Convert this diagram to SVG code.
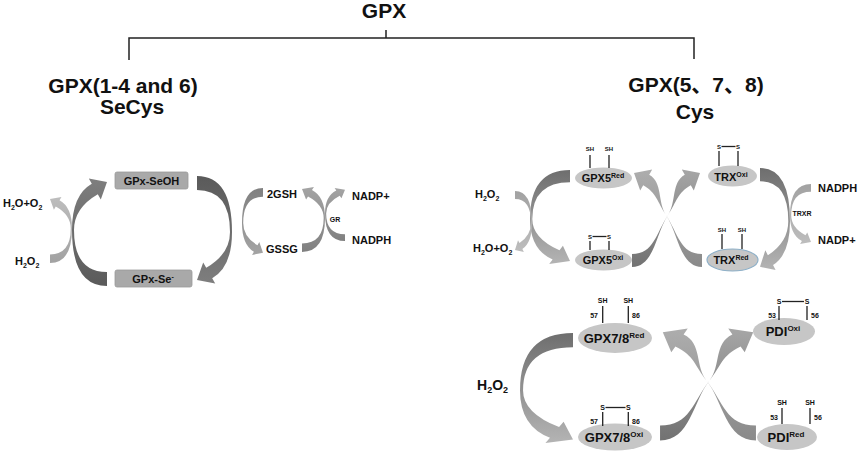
<svg xmlns="http://www.w3.org/2000/svg" width="858" height="460" viewBox="0 0 858 460">
<style>
text{font-family:"Liberation Sans",Arial,"Noto Sans CJK SC",sans-serif;font-weight:bold;fill:#111}
.h{font-size:21px}
.l{font-size:11px}
.s{font-size:6px}
.n{font-size:7px}
.tree{fill:none;stroke:#222;stroke-width:1.5}
.stem{fill:none;stroke:#222;stroke-width:1.3}
.ell{fill:#c6c6c6}
.box{fill:#a9a9a9;stroke:#9a9a9a;stroke-width:0.8}
</style>
<defs>
<linearGradient id="gDark" x1="0" y1="0" x2="0" y2="1"><stop offset="0" stop-color="#7e7e7e"/><stop offset="1" stop-color="#5a5a5a"/></linearGradient>
<linearGradient id="gDarkLight" x1="0" y1="0" x2="0" y2="1"><stop offset="0" stop-color="#b4b4b4"/><stop offset="1" stop-color="#6e6e6e"/></linearGradient>
<linearGradient id="gLight" x1="0" y1="0" x2="0" y2="1"><stop offset="0" stop-color="#bdbdbd"/><stop offset="1" stop-color="#a2a2a2"/></linearGradient>
<linearGradient id="gMid" x1="0" y1="0" x2="0" y2="1"><stop offset="0" stop-color="#a4a4a4"/><stop offset="1" stop-color="#808080"/></linearGradient>
<linearGradient id="gS1" x1="0" y1="0" x2="0" y2="1"><stop offset="0" stop-color="#a6a6a6"/><stop offset="1" stop-color="#727272"/></linearGradient>
<linearGradient id="gS2" x1="0" y1="0" x2="0" y2="1"><stop offset="0" stop-color="#adadad"/><stop offset="1" stop-color="#8a8a8a"/></linearGradient>
<path id="carc" d="M107,286 Q72,286 72,230 Q72,195 91.8,183.8 L88.8,178.6 L107,182 L100.8,199.4 L97.8,194.2 Q74,208 74,230 Q74,272 107,272 Z"/>
<path id="sarr" d="M632,254 C654,254 655.9,233.3 668,215 C676.8,201.7 670.9,182.8 684.8,174.8 L681.8,169.6 L700,173 L693.8,190.4 L690.8,185.2 C676.9,193.2 676.8,201.7 668,215 C655.9,233.3 654,267 632,267 Z"/>
</defs>

<g id="connectors">
<path class="tree" d="M386,30 V38 M129,60 V38 H694 V59"/>
<use href="#carc" fill="url(#gDark)"/>
<use href="#carc" fill="url(#gDark)" transform="rotate(180 152 231)"/>
<use href="#carc" fill="url(#gLight)" transform="translate(117.3 87.25) scale(-0.629 0.6145)"/>
<use href="#carc" fill="url(#gMid)" transform="translate(198.8 366.4) scale(0.6 -0.624)"/>
<use href="#carc" fill="url(#gMid)" transform="translate(372.3 78.9) scale(-0.657 0.605)"/>
<use href="#carc" fill="url(#gMid)" transform="translate(283.9 99.9) scale(0.571 0.4935)"/>
<use href="#carc" fill="url(#gDarkLight)" transform="translate(447.7 420.3) scale(1.143 -0.875)"/>
<use href="#carc" fill="url(#gLight)" transform="translate(567 353.4) scale(-0.486 -0.568)"/>
<use href="#carc" fill="url(#gDarkLight)" transform="translate(851.7 439.7) scale(-0.857 -0.95)"/>
<use href="#carc" fill="url(#gLight)" transform="translate(746.8 343.8) scale(0.6 -0.5587)"/>
<use href="#carc" fill="url(#gDarkLight)" transform="translate(411 625.9) scale(1.514 -1.024)"/>
<use href="#sarr" fill="url(#gS1)"/>
<use href="#sarr" fill="url(#gS2)" transform="translate(1334 0) scale(-1 1)"/>
<use href="#sarr" fill="url(#gS1)" transform="translate(-205.8 133.4) scale(1.37 1.15)"/>
<use href="#sarr" fill="url(#gS2)" transform="translate(1621.8 133.4) scale(-1.37 1.15)"/>
</g>

<g id="gpx-root"><text class="h" x="384" y="18" text-anchor="middle">GPX</text></g>
<g id="secys-branch"><text class="h" x="123" y="93" text-anchor="middle">GPX(1-4 and 6)</text><text class="h" x="132" y="114" text-anchor="middle">SeCys</text></g>
<g id="cys-branch"><text class="h" x="696" y="92" text-anchor="middle">GPX(5、7、8)</text><text class="h" x="695" y="119" text-anchor="middle">Cys</text></g>

<g id="gpx-seoh"><rect class="box" x="115" y="172" width="73" height="17" rx="2"/><text x="151.5" y="184.5" text-anchor="middle" font-size="11">GPx-SeOH</text></g>
<g id="gpx-se"><rect class="box" x="115" y="270" width="77" height="17" rx="2"/><text x="153" y="282.5" text-anchor="middle" font-size="11">GPx-Se<tspan font-size="7" dy="-4">-</tspan></text></g>
<g id="h2o-o2-left"><text class="l" x="3" y="207">H<tspan font-size="7" dy="3">2</tspan><tspan dy="-3">O+O</tspan><tspan font-size="7" dy="3">2</tspan></text></g>
<g id="h2o2-left"><text class="l" x="15" y="265">H<tspan font-size="7" dy="3">2</tspan><tspan dy="-3">O</tspan><tspan font-size="7" dy="3">2</tspan></text></g>
<g id="gsh"><text class="l" x="267" y="198">2GSH</text></g>
<g id="gssg"><text class="l" x="266" y="253">GSSG</text></g>
<g id="nadp-left"><text class="l" x="352" y="200">NADP+</text></g>
<g id="nadph-left"><text class="l" x="352" y="244">NADPH</text></g>
<g id="gr"><text class="n" x="335" y="222" text-anchor="middle">GR</text></g>

<g id="gpx5-red">
<ellipse class="ell" cx="603.5" cy="178" rx="28.5" ry="10.5"/>
<path class="stem" d="M590,155 V168 M609,155 V168"/>
<text class="s" x="590" y="151" text-anchor="middle">SH</text><text class="s" x="609" y="151" text-anchor="middle">SH</text>
<text x="603" y="182" text-anchor="middle" font-size="11">GPX5<tspan font-size="7" dy="-4">Red</tspan></text>
</g>
<g id="trx-oxi">
<ellipse class="ell" cx="732.5" cy="176" rx="24.5" ry="10.5"/>
<path class="stem" d="M719,151 V166 M738,151 V166"/>
<path class="stem" stroke-width="0.9" d="M721.5,146.5 H735.5"/>
<text class="s" x="719" y="149" text-anchor="middle">S</text><text class="s" x="738" y="149" text-anchor="middle">S</text>
<text x="731" y="180.5" text-anchor="middle" font-size="11">TRX<tspan font-size="7" dy="-4">Oxi</tspan></text>
</g>
<g id="gpx5-oxi">
<ellipse class="ell" cx="603.5" cy="260" rx="28.5" ry="10.5"/>
<path class="stem" d="M590,241 V250 M609,241 V250"/>
<path class="stem" stroke-width="0.9" d="M592.5,236.5 H606.5"/>
<text class="s" x="590" y="239" text-anchor="middle">S</text><text class="s" x="609" y="239" text-anchor="middle">S</text>
<text x="603" y="264" text-anchor="middle" font-size="11">GPX5<tspan font-size="7" dy="-4">Oxi</tspan></text>
</g>
<g id="trx-red">
<ellipse class="ell" cx="732.5" cy="260" rx="25.5" ry="11" stroke="#8eb0c8" stroke-width="1.2"/>
<path class="stem" d="M722,234 V249 M742,234 V249"/>
<text class="s" x="722" y="232" text-anchor="middle">SH</text><text class="s" x="742" y="232" text-anchor="middle">SH</text>
<text x="731" y="264" text-anchor="middle" font-size="11">TRX<tspan font-size="7" dy="-4">Red</tspan></text>
</g>
<g id="h2o2-right"><text class="l" x="475" y="198">H<tspan font-size="7" dy="3">2</tspan><tspan dy="-3">O</tspan><tspan font-size="7" dy="3">2</tspan></text></g>
<g id="h2o-o2-right"><text class="l" x="473" y="252">H<tspan font-size="7" dy="3">2</tspan><tspan dy="-3">O+O</tspan><tspan font-size="7" dy="3">2</tspan></text></g>
<g id="nadph-right"><text class="l" x="818" y="192">NADPH</text></g>
<g id="nadp-right"><text class="l" x="818" y="244">NADP+</text></g>
<g id="trxr"><text class="n" x="802" y="216" text-anchor="middle">TRXR</text></g>

<g id="gpx78-red">
<ellipse class="ell" cx="615" cy="338" rx="37" ry="15"/>
<path class="stem" d="M602.7,306 V323 M628.3,306 V323"/>
<text class="n" x="602.7" y="303" text-anchor="middle">SH</text><text class="n" x="628.3" y="303" text-anchor="middle">SH</text>
<text class="n" x="598" y="318" text-anchor="end">57</text><text class="n" x="632" y="318">86</text>
<text x="614" y="343" text-anchor="middle" font-size="13">GPX7/8<tspan font-size="8" dy="-5">Red</tspan></text>
</g>
<g id="pdi-oxi">
<ellipse class="ell" cx="784" cy="331.5" rx="31" ry="13.5"/>
<path class="stem" d="M779,306 V320 M807,306 V320"/>
<path class="stem" stroke-width="0.9" d="M782,301.5 H804"/>
<text class="n" x="779" y="304" text-anchor="middle">S</text><text class="n" x="807" y="304" text-anchor="middle">S</text>
<text class="n" x="776" y="318" text-anchor="end">53</text><text class="n" x="811" y="318">56</text>
<text x="783" y="336" text-anchor="middle" font-size="13">PDI<tspan font-size="8" dy="-5">Oxi</tspan></text>
</g>
<g id="gpx78-oxi">
<ellipse class="ell" cx="615" cy="437" rx="37" ry="13.5"/>
<path class="stem" d="M602.7,412 V426 M628.3,412 V426"/>
<path class="stem" stroke-width="0.9" d="M605.5,407.5 H625.5"/>
<text class="n" x="602.7" y="410" text-anchor="middle">S</text><text class="n" x="628.3" y="410" text-anchor="middle">S</text>
<text class="n" x="598" y="424" text-anchor="end">57</text><text class="n" x="632" y="424">86</text>
<text x="614" y="442" text-anchor="middle" font-size="13">GPX7/8<tspan font-size="8" dy="-5">Oxi</tspan></text>
</g>
<g id="pdi-red">
<ellipse class="ell" cx="787" cy="437" rx="30" ry="13"/>
<path class="stem" d="M782,408 V424 M810,408 V424"/>
<text class="n" x="782" y="405" text-anchor="middle">SH</text><text class="n" x="810" y="405" text-anchor="middle">SH</text>
<text class="n" x="778" y="420" text-anchor="end">53</text><text class="n" x="814" y="420">56</text>
<text x="786" y="442" text-anchor="middle" font-size="13">PDI<tspan font-size="8" dy="-5">Red</tspan></text>
</g>
<g id="h2o2-bottom"><text x="477" y="390" font-size="14">H<tspan font-size="9" dy="3">2</tspan><tspan dy="-3">O</tspan><tspan font-size="9" dy="3">2</tspan></text></g>
</svg>
